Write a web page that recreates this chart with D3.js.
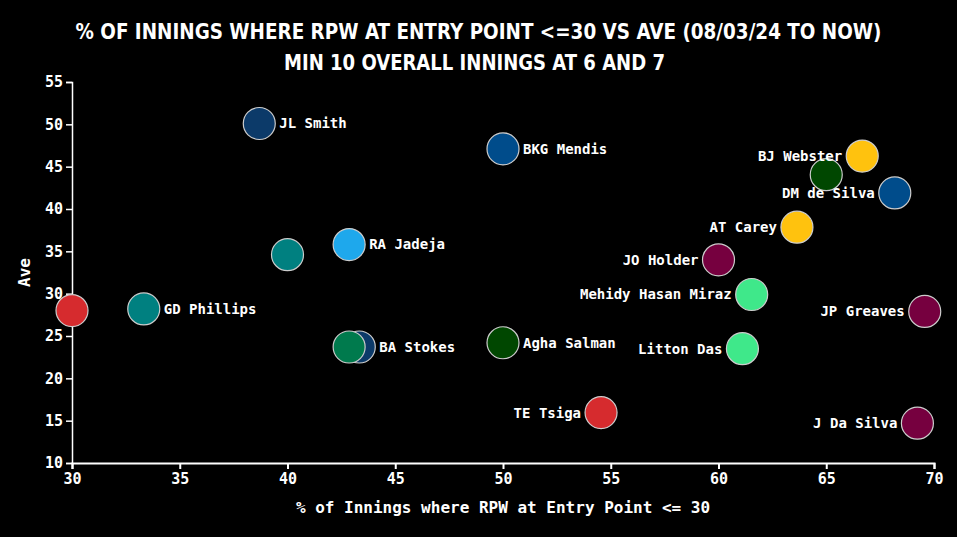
<!DOCTYPE html>
<head>
  <meta charset="utf-8">
  <title>RPW at Entry Point vs Ave</title>
  <style>
    body {
      margin: 0;
      padding: 0;
      background-color: #000;
    }

    .title {
      fill: #fff;
      font-family: 'DejaVu Sans Condensed', 'Liberation Sans Narrow', sans-serif;
      font-stretch: condensed;
      font-weight: 700;
      font-size: 22px;
      text-anchor: middle;
    }

    .axis text {
      fill: #fff;
      font-family: 'DejaVu Sans Mono', monospace;
      font-weight: 700;
      font-size: 15px;
    }

    .axis line, .axis path {
      stroke: #fff;
    }

    .axis-title {
      fill: #fff;
      font-family: 'DejaVu Sans Mono', monospace;
      font-weight: 700;
      font-size: 16px;
      text-anchor: middle;
    }

    .dot {
      stroke: #ccc;
      stroke-width: 1.2;
    }

    .label {
      fill: #fff;
      font-family: 'DejaVu Sans Mono', monospace;
      font-weight: 700;
      font-size: 14px;
    }
  </style>
</head>
<body>
  <div id='vis'></div>

  <script src="https://cdn.jsdelivr.net/npm/d3@7"></script>
  <script>
    // players, in drawing order
    var names = ['', 'GD Phillips', 'JL Smith', '', 'RA Jadeja', 'BA Stokes', '',
                 'BKG Mendis', 'Agha Salman', 'TE Tsiga', 'JO Holder',
                 'Mehidy Hasan Miraz', 'Litton Das', 'AT Carey', '',
                 'BJ Webster', 'DM de Silva', 'JP Greaves', 'J Da Silva'];
    var pctRpw = [30.0, 33.33, 38.69, 40.0, 42.86, 43.33, 42.86,
                  50.0, 50.0, 54.55, 60.0,
                  61.54, 61.11, 63.64, 65.0,
                  66.67, 68.18, 69.57, 69.23];
    var ave = [28.0, 28.2, 50.1, 34.6, 35.8, 23.7, 23.7,
               47.1, 24.2, 15.95, 34.0,
               29.9, 23.5, 37.85, 44.05,
               46.25, 41.9, 27.9, 14.7];
    var colours = ['#d62b2e', '#008080', '#0c3a69', '#008080', '#1ea8ec', '#0c3a69', '#007a4d',
                   '#004c8b', '#004700', '#d62b2e', '#76003f',
                   '#3fe88a', '#3fe88a', '#ffc20e', '#004700',
                   '#ffc20e', '#004c8b', '#76003f', '#76003f'];

    var xTicks = [30, 35, 40, 45, 50, 55, 60, 65, 70],
        yTicks = [10, 15, 20, 25, 30, 35, 40, 45, 50, 55];

    var width = 957,
        height = 537,
        margin = {top: 82, right: 23, bottom: 74, left: 72};

    var data = names.map(function(n, i) {
      return {name: n, x: pctRpw[i], y: ave[i], colour: colours[i]};
    });

    var svg = d3.select("#vis").append("svg")
      .attr("width", width)
      .attr("height", height)
      .style("display", "block");

    var x = d3.scaleLinear()
      .domain([30, 70])
      .range([margin.left, width - margin.right]);

    var y = d3.scaleLinear()
      .domain([10, 55])
      .range([height - margin.bottom, margin.top]);

    // title
    svg.append("text")
      .attr("class", "title")
      .attr("x", width / 2)
      .attr("y", 38.5)
      .attr("textLength", 806)
      .attr("lengthAdjust", "spacingAndGlyphs")
      .text("% OF INNINGS WHERE RPW AT ENTRY POINT <=30 VS AVE (08/03/24 TO NOW)");

    svg.append("text")
      .attr("class", "title")
      .attr("x", (284 + 665) / 2)
      .attr("y", 70)
      .attr("textLength", 381)
      .attr("lengthAdjust", "spacingAndGlyphs")
      .text("MIN 10 OVERALL INNINGS AT 6 AND 7");

    // axes
    var xAxis = svg.append("g")
      .attr("class", "axis")
      .attr("transform", "translate(0," + (height - margin.bottom) + ")")
      .call(d3.axisBottom(x).tickValues(xTicks).tickSize(6).tickPadding(4));
    xAxis.selectAll("path, line").style("stroke-width", 2);

    var yAxis = svg.append("g")
      .attr("class", "axis")
      .attr("transform", "translate(" + margin.left + ",0)")
      .call(d3.axisLeft(y).tickValues(yTicks).tickSize(6).tickPadding(3));
    yAxis.selectAll("path, line").style("stroke-width", 1.5);

    svg.append("text")
      .attr("class", "axis-title")
      .attr("x", (margin.left + width - margin.right) / 2)
      .attr("y", 513)
      .text("% of Innings where RPW at Entry Point <= 30");

    svg.append("text")
      .attr("class", "axis-title")
      .attr("transform", "translate(30," + ((margin.top + height - margin.bottom) / 2) + ") rotate(-90)")
      .text("Ave");

    // dots
    svg.append("g")
      .selectAll("circle")
      .data(data)
      .enter().append("circle")
        .attr("class", "dot")
        .attr("cx", function(d) { return x(d.x); })
        .attr("cy", function(d) { return y(d.y); })
        .attr("r", 16)
        .attr("fill", function(d) { return d.colour; });

    // labels: right of the dot below 54%, left of it above
    svg.append("g")
      .selectAll("text")
      .data(data.filter(function(d) { return d.name; }))
      .enter().append("text")
        .attr("class", "label")
        .attr("x", function(d) { return x(d.x) + (d.x > 54 ? -20 : 20); })
        .attr("y", function(d) { return y(d.y); })
        .attr("dy", "0.35em")
        .attr("text-anchor", function(d) { return d.x > 54 ? "end" : "start"; })
        .text(function(d) { return d.name; });
  </script>
</body>
